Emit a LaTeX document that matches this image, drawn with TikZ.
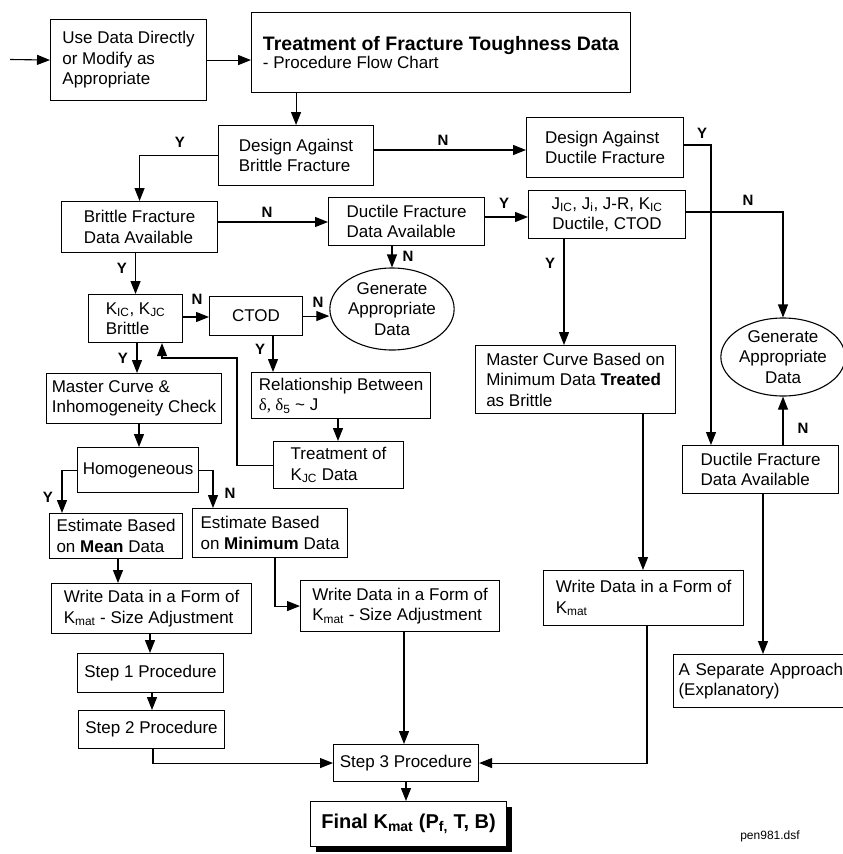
\documentclass[tikz,border=0pt]{standalone}
\usepackage{fontspec}
\setmainfont{Liberation Sans}
\newfontfamily\grk{Liberation Serif}
\usetikzlibrary{arrows.meta,shapes.geometric,shadows}
\begin{document}
\begin{tikzpicture}[x=1pt,y=-1pt,line width=1.1pt,
  txt/.style={font=\fontsize{17}{20.5}\selectfont},
  box/.style={txt,draw,inner sep=0pt,anchor=north west},
  ell/.style={txt,draw,ellipse,inner sep=0pt,align=center},
  lab/.style={font=\fontsize{15}{15}\selectfont\bfseries,inner sep=0pt},
  arr/.style={-{Triangle[length=13pt,width=10pt]}}]
\useasboundingbox (0,0) rectangle (843,854);

% boxes
\node[box,minimum width=156,minimum height=81,align=left] (use) at (50,19) {Use Data Directly\\or Modify as\\Appropriate};
\node[box,minimum width=379,minimum height=80,align=left] (title) at (251,12) {{\fontsize{19.5}{23}\selectfont\bfseries Treatment of Fracture Toughness Data}\\[-2pt]- Procedure Flow Chart};
\node[box,minimum width=155,minimum height=60,align=left] (dbr) at (218,125) {Design Against\\Brittle Fracture};
\node[box,minimum width=157,minimum height=60,align=left] (ddu) at (526,117) {Design Against\\Ductile Fracture};
\node[box,minimum width=156,minimum height=51,align=left] (bfa) at (61,201) {Brittle Fracture\\Data Available};
\node[box,minimum width=156,minimum height=48,align=left] (dfa) at (328,197) {Ductile Fracture\\Data Available};
\node[box,minimum width=157,minimum height=48,align=center] (jbox) at (528,190) {J\textsubscript{IC}, J\textsubscript{i}, J-R, K\textsubscript{IC}\\Ductile, CTOD};
\node[ell,minimum width=120,minimum height=82] (gen1) at (392,309) {Generate\\Appropriate\\Data};
\node[box,minimum width=94,minimum height=48,align=left] (kbox) at (88,294) {K\textsubscript{IC}, K\textsubscript{JC}\\Brittle};
\node[box,minimum width=93,minimum height=39] (ctod) at (209,296) {CTOD};
\node[box,minimum width=179,minimum height=46,align=left] (rel) at (251,372) {Relationship Between\\{\grk δ, δ}\textsubscript{5} \textasciitilde{} J};
\node[box,minimum width=130,minimum height=47,align=left] (tkjc) at (273,441) {Treatment of\\K\textsubscript{JC} Data};
\node[box,minimum width=175,minimum height=50,align=left] (mc) at (46,373) {Master Curve \&\\Inhomogeneity Check};
\node[box,minimum width=121,minimum height=45] (hom) at (77,447) {Homogeneous};
\node[box,minimum width=133,minimum height=45,align=left] (emean) at (49,513) {Estimate Based\\on \textbf{Mean} Data};
\node[box,minimum width=155,minimum height=49,align=left] (emin) at (192,508) {Estimate Based\\on \textbf{Minimum} Data};
\node[box,minimum width=200,minimum height=50,align=left] (w1) at (51,583) {Write Data in a Form of\\K\textsubscript{mat} - Size Adjustment};
\node[box,minimum width=199,minimum height=51,align=left] (w2) at (300,580) {Write Data in a Form of\\K\textsubscript{mat} - Size Adjustment};
\node[box,minimum width=146,minimum height=39] (s1) at (77,653) {Step 1 Procedure};
\node[box,minimum width=146,minimum height=38] (s2) at (78,710) {Step 2 Procedure};
\node[box,minimum width=145,minimum height=37] (s3) at (333,744) {Step 3 Procedure};
\node[box,minimum width=196,minimum height=45,fill=white,font=\fontsize{20}{24}\selectfont\bfseries,
  drop shadow={shadow xshift=5pt,shadow yshift=-5pt,fill=black,opacity=1}] (final) at (310,801)
  {Final K\textsubscript{mat} (P\textsubscript{f,} T, B)};
\node[box,minimum width=200,minimum height=68,align=left] (mcmin) at (475,345) {Master Curve Based on\\Minimum Data \textbf{Treated}\\as Brittle};
\node[box,minimum width=200,minimum height=55,align=left] (w3) at (543,570) {Write Data in a Form of\\K\textsubscript{mat}};
\node[ell,minimum width=120,minimum height=78] (gen2) at (783,357) {Generate\\Appropriate\\Data};
\node[box,minimum width=156,minimum height=48,align=left] (dfa2) at (682,445) {Ductile Fracture\\Data Available};
\node[box,minimum height=53,text width=180,inner xsep=5pt,align=left] (sep) at (673,654) {A Separate Approach\\(Explanatory)};
\node[font=\fontsize{12}{14}\selectfont] (pen) at (770,836) {pen981.dsf};

% labels
\node[lab] (y1) at (180,142) {Y};
\node[lab] (n1) at (443,140) {N};
\node[lab] (y2) at (702,133) {Y};
\node[lab] (n2) at (267,212) {N};
\node[lab] (y3) at (504,203) {Y};
\node[lab] (n3) at (748,200) {N};
\node[lab] (n4) at (408,256) {N};
\node[lab] (y4) at (122,268) {Y};
\node[lab] (y5) at (550,263) {Y};
\node[lab] (n5) at (197,299) {N};
\node[lab] (n6) at (318,302) {N};
\node[lab] (y6) at (260,349) {Y};
\node[lab] (y7) at (123,358) {Y};
\node[lab] (y8) at (48,497) {Y};
\node[lab] (n7) at (230,493) {N};
\node[lab] (n8) at (803,428) {N};

% connectors
\coordinate (inp) at (10,59.5);
\draw[arr] (inp) -- (use.west);
\draw[arr] (use.east) -- (use.east -| title.west);
\draw[arr] (dbr.north |- title.south) -- (dbr.north);
\draw[arr] (dbr.west) -| (bfa.north);
\draw[arr] (dbr.east |- 0,150) -- (ddu.west |- 0,150);
\draw[arr] (ddu.east |- 0,145) -| (dfa2.north -| 711,0);
\draw[arr] (bfa.east |- 0,222) -- (dfa.west |- 0,222);
\draw[arr] (dfa.east |- 0,217) -- (jbox.west |- 0,217);
\draw[arr] (jbox.east |- 0,212) -| (gen2.north);
\draw[arr] (gen1.north |- dfa.south) -- (gen1.north);
\draw[arr] (kbox.north |- bfa.south) -- (kbox.north);
\draw[arr] (kbox.east |- 0,317) -- (ctod.west |- 0,317);
\draw[arr] (ctod.east) -- (ctod.east -| gen1.west);
\draw[arr] (ctod.south -| 273,0) -- (rel.north -| 273,0);
\draw[arr] (rel.south -| 338,0) -- (tkjc.north -| 338,0);
\draw[arr] (tkjc.west) -| (237,358) -| (kbox.south -| 162,0);
\draw[arr] (kbox.south -| 137,0) -- (mc.north -| 137,0);
\draw[arr] (mc.south -| 139,0) -- (hom.north -| 139,0);
\draw[arr] (hom.west) -| (emean.north -| 62,0);
\draw[arr] (hom.east) -| (emin.north -| 213,0);
\draw[arr] (emean.south -| 118,0) -- (w1.north -| 118,0);
\draw[arr] (emin.south -| 275,0) |- (w2.west);
\draw[arr] (w1.south -| 150,0) -- (s1.north -| 150,0);
\draw[arr] (s1.south -| 152,0) -- (s2.north -| 152,0);
\draw[arr] (s2.south -| 153,0) |- (s3.west);
\draw[arr] (w2.south -| 404,0) -- (s3.north -| 404,0);
\draw[arr] (s3.south -| 406,0) -- (final.north -| 406,0);
\draw[arr] (jbox.south -| 564,0) -- (mcmin.north -| 564,0);
\draw[arr] (mcmin.south -| 643,0) -- (w3.north -| 643,0);
\draw[arr] (w3.south -| 647,0) |- (s3.east);
\draw[arr] (dfa2.north -| gen2.south) -- (gen2.south);
\draw[arr] (dfa2.south -| 763,0) -- (sep.north -| 763,0);
\end{tikzpicture}
\end{document}
